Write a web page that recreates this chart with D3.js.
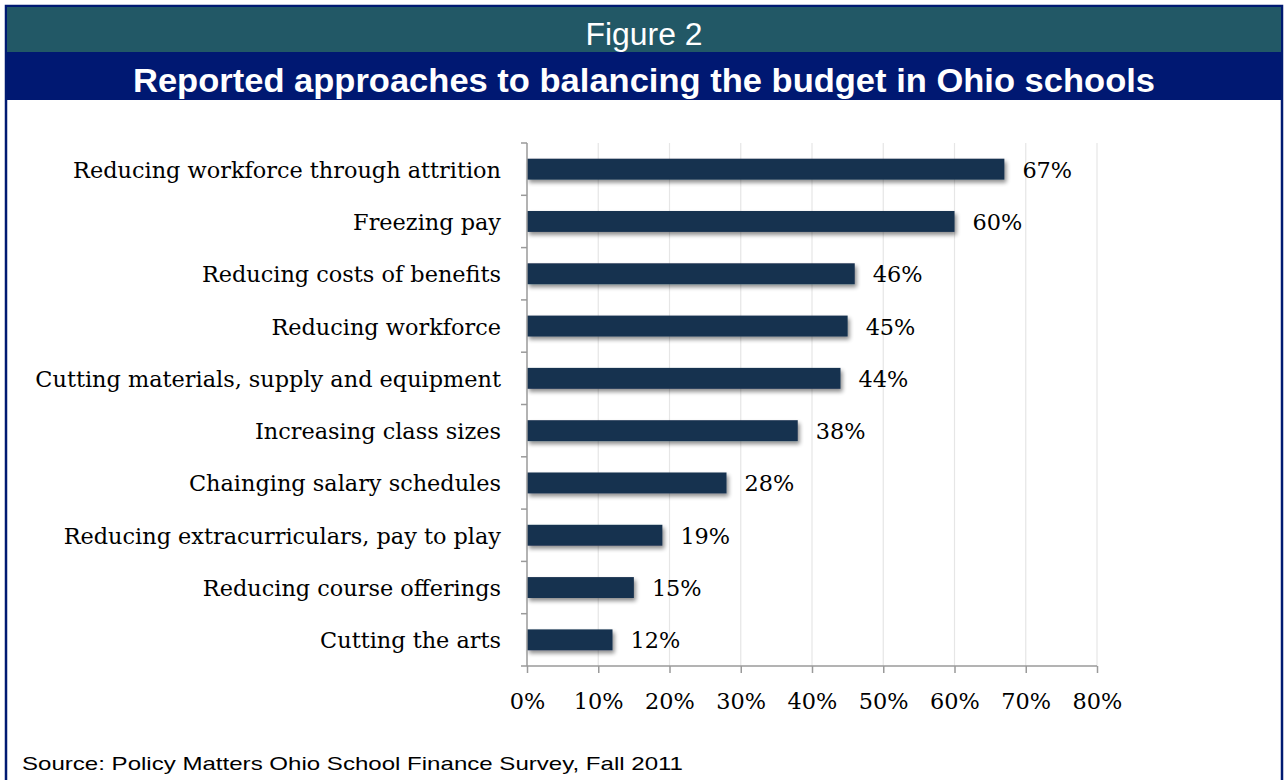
<!DOCTYPE html>
<html>
<head>
<meta charset="utf-8">
<script src="https://cdn.jsdelivr.net/npm/d3@7"></script>
<style>
  html, body { margin: 0; padding: 0; background: #ffffff; }
  svg { display: block; }
</style>
</head>
<body>
<svg id="chart" width="1285" height="780"></svg>
<script>
// Survey results: share of Ohio school districts reporting each approach
const categories = [
  "Reducing workforce through attrition",
  "Freezing pay",
  "Reducing costs of benefits",
  "Reducing workforce",
  "Cutting materials, supply and equipment",
  "Increasing class sizes",
  "Chainging salary schedules",
  "Reducing extracurriculars, pay to play",
  "Reducing course offerings",
  "Cutting the arts"
];
const values = [67, 60, 46, 45, 44, 38, 28, 19, 15, 12];
const xTicks = [0, 10, 20, 30, 40, 50, 60, 70, 80];

const figureLabel = "Figure 2";
const title = "Reported approaches to balancing the budget in Ohio schools";
const source = "Source: Policy Matters Ohio School Finance Survey, Fall 2011";

const svg = d3.select("#chart");
const serif = "'DejaVu Serif', 'Liberation Serif', serif";
const sans = "Arial, 'Liberation Sans', sans-serif";
const serifSize = "22.4px";

// Frame and header bands
svg.append("rect").attr("x", 6).attr("y", 6).attr("width", 1276).attr("height", 790)
  .attr("fill", "#ffffff").attr("stroke", "#001a72").attr("stroke-width", 2.5);
svg.append("rect").attr("x", 7).attr("y", 7).attr("width", 1274).attr("height", 45)
  .attr("fill", "#225866");
svg.append("rect").attr("x", 7).attr("y", 52).attr("width", 1274).attr("height", 48)
  .attr("fill", "#001872");

svg.append("text").attr("x", 644).attr("y", 45)
  .attr("text-anchor", "middle").attr("fill", "#ffffff")
  .style("font-family", sans).style("font-size", "31px")
  .attr("textLength", 117).attr("lengthAdjust", "spacingAndGlyphs")
  .text(figureLabel);
svg.append("text").attr("x", 644).attr("y", 92)
  .attr("text-anchor", "middle").attr("fill", "#ffffff")
  .style("font-family", sans).style("font-size", "34px")
  .style("font-weight", "bold")
  .attr("textLength", 1022).attr("lengthAdjust", "spacingAndGlyphs")
  .text(title);

// Plot area
const plotLeft = 527, plotRight = 1097, plotTop = 143, plotBottom = 666;
const x = d3.scaleLinear().domain([0, 80]).range([plotLeft, plotRight]);
const y = d3.scaleBand().domain(categories).range([plotTop, plotBottom]).paddingInner(0.6).paddingOuter(0.3);
const yOuter = d3.scaleBand().domain(categories).range([plotTop, plotBottom]);

const defs = svg.append("defs");
const shadow = defs.append("filter").attr("id", "barShadow")
  .attr("x", "-5%").attr("y", "-40%").attr("width", "115%").attr("height", "200%");
shadow.append("feGaussianBlur").attr("in", "SourceAlpha").attr("stdDeviation", 2);
shadow.append("feOffset").attr("dx", 2).attr("dy", 3).attr("result", "off");
shadow.append("feComponentTransfer").append("feFuncA").attr("type", "linear").attr("slope", 0.45);
const merge = shadow.append("feMerge");
merge.append("feMergeNode");
merge.append("feMergeNode").attr("in", "SourceGraphic");

// Vertical gridlines
svg.append("g").selectAll("line").data(xTicks.slice(1)).join("line")
  .attr("x1", d => x(d)).attr("x2", d => x(d))
  .attr("y1", plotTop).attr("y2", plotBottom)
  .attr("stroke", "#e6e6e6").attr("stroke-width", 1.2);

// Bars
svg.append("g").selectAll("rect").data(values).join("rect")
  .attr("x", x(0))
  .attr("y", (d, i) => y(categories[i]))
  .attr("width", d => x(d) - x(0))
  .attr("height", y.bandwidth())
  .attr("fill", "#17304f")
  .attr("filter", "url(#barShadow)");

// Value labels
svg.append("g").selectAll("text").data(values).join("text")
  .attr("x", d => x(d) + 18)
  .attr("y", (d, i) => y(categories[i]) + y.bandwidth() / 2)
  .attr("dy", "0.38em")
  .attr("fill", "#000000")
  .style("font-family", serif).style("font-size", serifSize)
  .text(d => d + "%");

// Y axis with category separators
const yAxisG = svg.append("g");
yAxisG.append("line").attr("x1", plotLeft).attr("x2", plotLeft).attr("y1", plotTop).attr("y2", plotBottom)
  .attr("stroke", "#9a9a9a").attr("stroke-width", 1.5);
const seps = categories.map(c => yOuter(c)).concat([plotBottom]);
yAxisG.selectAll("line.sep").data(seps).join("line").attr("class", "sep")
  .attr("x1", plotLeft - 6).attr("x2", plotLeft).attr("y1", d => d).attr("y2", d => d)
  .attr("stroke", "#9a9a9a").attr("stroke-width", 1.5);
yAxisG.selectAll("text").data(categories).join("text")
  .attr("x", 501)
  .attr("y", d => yOuter(d) + yOuter.bandwidth() / 2)
  .attr("dy", "0.38em")
  .attr("text-anchor", "end")
  .attr("fill", "#000000")
  .style("font-family", serif).style("font-size", serifSize)
  .text(d => d);

// X axis
const xAxis = d3.axisBottom(x).tickValues(xTicks).tickFormat(d => d + "%").tickSize(7).tickPadding(20);
const xAxisG = svg.append("g").attr("transform", `translate(0,${plotBottom})`).call(xAxis);
xAxisG.select(".domain").attr("stroke", "#9a9a9a").attr("stroke-width", 1.5)
  .attr("d", `M${plotLeft},0H${plotRight}`);
xAxisG.selectAll(".tick line").attr("stroke", "#9a9a9a").attr("stroke-width", 1.5);
xAxisG.selectAll(".tick text").attr("fill", "#000000")
  .style("font-family", serif).style("font-size", serifSize);

// Source note
svg.append("text").attr("x", 22).attr("y", 770)
  .attr("fill", "#000000")
  .style("font-family", sans).style("font-size", "19px")
  .attr("textLength", 661).attr("lengthAdjust", "spacingAndGlyphs")
  .text(source);
</script>
</body>
</html>
